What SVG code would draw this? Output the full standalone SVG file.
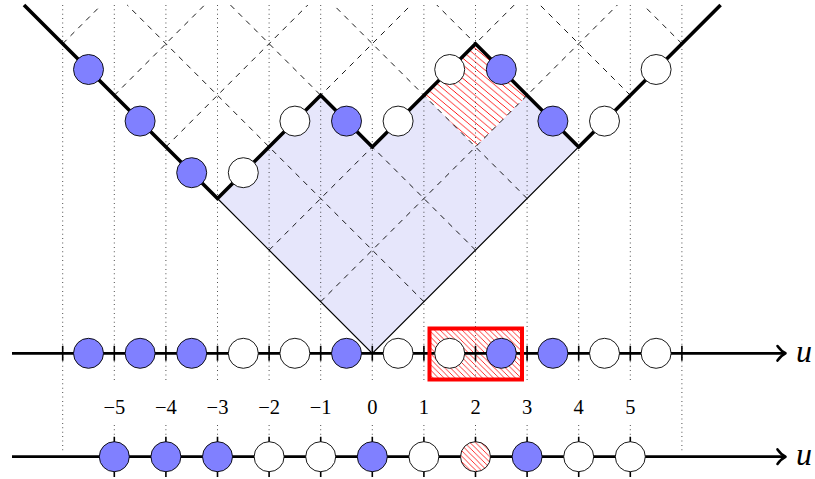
<svg xmlns="http://www.w3.org/2000/svg" width="815" height="479" viewBox="0 0 815 479">
<style>
.bg{fill:#ffffff}
.region{fill:#e6e6fb;stroke:none}
.dash{stroke:#000;stroke-width:0.9;stroke-dasharray:5.5 5.5;fill:none}
.dot{stroke:#222;stroke-width:1;stroke-dasharray:0.8 3.6;fill:none}
.vedge{stroke:#000;stroke-width:1.2;fill:none}
.profile{stroke:#000;stroke-width:3.6;fill:none;stroke-linejoin:miter}
.axis{stroke:#000;stroke-width:2.8;fill:none}
.arrow{stroke:#000;stroke-width:2.6;fill:none;stroke-linecap:round;stroke-linejoin:round}
.tick{stroke:#000;stroke-width:1.6}
.b{fill:#8080ff;stroke:#000;stroke-width:0.9}
.w{fill:#ffffff;stroke:#000;stroke-width:0.9}
.h{fill:url(#hatch);stroke:#000;stroke-width:0.9}
.lbl{font-family:"Liberation Serif",serif;font-size:20.5px;fill:#000;text-anchor:middle}
.u{font-family:"Liberation Serif",serif;font-style:italic;font-size:32px;fill:#000}
</style>
<defs>
<pattern id="hatch" patternUnits="userSpaceOnUse" width="5.5" height="5.5">
<rect width="5.5" height="5.5" fill="#fff"/>
<path d="M-1,-1 L6.5,6.5 M-1,4.5 L1,6.5 M4.5,-1 L6.5,1" stroke="#ff0000" stroke-width="0.8"/>
</pattern>
<pattern id="hatch2" patternUnits="userSpaceOnUse" width="7.3" height="7.3" patternTransform="rotate(-5)">
<rect width="7.3" height="7.3" fill="#fff"/>
<path d="M-1,-1 L8.3,8.3 M-1,6.3 L1,8.3 M6.3,-1 L8.3,1" stroke="#ff0000" stroke-width="0.9"/>
</pattern>
</defs>
<rect class="bg" x="0" y="0" width="815" height="479"/>

<g id="cone-region">
<polygon class="region" points="372.3,353.3 217.5,198.5 320.7,95.3 372.3,146.9 475.5,43.7 578.7,146.9"/>
<polygon id="hatched-cell" points="475.5,43.7 527.1,95.3 475.5,146.9 423.9,95.3" fill="url(#hatch2)"/>
</g>

<g id="grid">
<line class="dash" x1="320.7" y1="301.7" x2="617.4" y2="5"/>
<line class="dash" x1="269.1" y1="250.1" x2="514.2" y2="5"/>
<line class="dash" x1="217.5" y1="198.5" x2="411.0" y2="5"/>
<line class="dash" x1="165.9" y1="146.9" x2="307.8" y2="5"/>
<line class="dash" x1="114.3" y1="95.3" x2="204.6" y2="5"/>
<line class="dash" x1="62.7" y1="43.7" x2="101.4" y2="5"/>
<line class="dash" x1="423.9" y1="301.7" x2="127.2" y2="5"/>
<line class="dash" x1="475.5" y1="250.1" x2="230.4" y2="5"/>
<line class="dash" x1="527.1" y1="198.5" x2="333.6" y2="5"/>
<line class="dash" x1="578.7" y1="146.9" x2="436.8" y2="5"/>
<line class="dash" x1="630.3" y1="95.3" x2="540.0" y2="5"/>
<line class="dash" x1="681.9" y1="43.7" x2="643.2" y2="5"/>
</g>

<g id="hatch-box-fill">
<rect x="429.5" y="328.5" width="92.5" height="51" fill="url(#hatch)"/>
</g>

<g id="dotted">
<line class="dot" x1="62.7" y1="5" x2="62.7" y2="452"/>
<line class="dot" x1="681.9" y1="5" x2="681.9" y2="452"/>
<path class="dot" d="M114.3,5V382M114.3,425V437 M165.9,5V382M165.9,425V437 M217.5,5V382M217.5,425V437 M269.1,5V382M269.1,425V437 M320.7,5V382M320.7,425V437 M372.3,5V382M372.3,425V437 M423.9,5V382M423.9,425V437 M475.5,5V382M475.5,425V437 M527.1,5V382M527.1,425V437 M578.7,5V382M578.7,425V437 M630.3,5V382M630.3,425V437"/>
</g>

<g id="connectors">
<polyline id="cone-edges" class="vedge" points="217.5,198.5 372.3,353.3 578.7,146.9"/>
<polyline id="profile" class="profile" points="24,5 217.5,198.5 320.7,95.3 372.3,146.9 475.5,43.7 578.7,146.9 720.6,5"/>
<line id="axis-mid" class="axis" x1="12" y1="353.3" x2="784" y2="353.3"/>
<path class="arrow" d="M777.5,346 Q781.5,351.5 785.5,353.3 Q781.5,355.1 777.5,360.6"/>
<path id="ticks-mid" class="tick" d="M62.7,345.8V360.8 M114.3,345.8V360.8 M165.9,345.8V360.8 M217.5,345.8V360.8 M269.1,345.8V360.8 M320.7,345.8V360.8 M372.3,345.8V360.8 M423.9,345.8V360.8 M475.5,345.8V360.8 M527.1,345.8V360.8 M578.7,345.8V360.8 M630.3,345.8V360.8 M681.9,345.8V360.8"/>
<line id="axis-bottom" class="axis" x1="12" y1="456.7" x2="784" y2="456.7"/>
<path class="arrow" d="M777.5,449.4 Q781.5,454.9 785.5,456.7 Q781.5,458.5 777.5,464"/>
<path id="ticks-bottom" class="tick" d="M114.3,436.7V477 M165.9,436.7V477 M217.5,436.7V477 M269.1,436.7V477 M320.7,436.7V477 M372.3,436.7V477 M423.9,436.7V477 M475.5,436.7V477 M527.1,436.7V477 M578.7,436.7V477 M630.3,436.7V477"/>
</g>

<g id="profile-nodes">
<circle id="p1" class="b" cx="88.5" cy="69.5" r="15"/>
<circle id="p2" class="b" cx="140.1" cy="121.1" r="15"/>
<circle id="p3" class="b" cx="191.7" cy="172.7" r="15"/>
<circle id="p4" class="w" cx="243.3" cy="172.7" r="15"/>
<circle id="p5" class="w" cx="294.9" cy="121.1" r="15"/>
<circle id="p6" class="b" cx="346.5" cy="121.1" r="15"/>
<circle id="p7" class="w" cx="398.1" cy="121.1" r="15"/>
<circle id="p8" class="w" cx="449.7" cy="69.5" r="15"/>
<circle id="p9" class="b" cx="501.3" cy="69.5" r="15"/>
<circle id="p10" class="b" cx="552.9" cy="121.1" r="15"/>
<circle id="p11" class="w" cx="604.5" cy="121.1" r="15"/>
<circle id="p12" class="w" cx="656.1" cy="69.5" r="15"/>
</g>

<g id="axis-nodes">
<circle id="a1" class="b" cx="88.5" cy="353.3" r="15"/>
<circle id="a2" class="b" cx="140.1" cy="353.3" r="15"/>
<circle id="a3" class="b" cx="191.7" cy="353.3" r="15"/>
<circle id="a4" class="w" cx="243.3" cy="353.3" r="15"/>
<circle id="a5" class="w" cx="294.9" cy="353.3" r="15"/>
<circle id="a6" class="b" cx="346.5" cy="353.3" r="15"/>
<circle id="a7" class="w" cx="398.1" cy="353.3" r="15"/>
<circle id="a8" class="w" cx="449.7" cy="353.3" r="15"/>
<circle id="a9" class="b" cx="501.3" cy="353.3" r="15"/>
<circle id="a10" class="b" cx="552.9" cy="353.3" r="15"/>
<circle id="a11" class="w" cx="604.5" cy="353.3" r="15"/>
<circle id="a12" class="w" cx="656.1" cy="353.3" r="15"/>
</g>

<g id="red-box">
<rect x="429.5" y="328.5" width="92.5" height="51" fill="none" stroke="#ff0000" stroke-width="4"/>
</g>

<g id="bottom-nodes">
<circle id="q1" class="b" cx="114.3" cy="456.7" r="15"/>
<circle id="q2" class="b" cx="165.9" cy="456.7" r="15"/>
<circle id="q3" class="b" cx="217.5" cy="456.7" r="15"/>
<circle id="q4" class="w" cx="269.1" cy="456.7" r="15"/>
<circle id="q5" class="w" cx="320.7" cy="456.7" r="15"/>
<circle id="q6" class="b" cx="372.3" cy="456.7" r="15"/>
<circle id="q7" class="w" cx="423.9" cy="456.7" r="15"/>
<circle id="q8" class="h" cx="475.5" cy="456.7" r="15"/>
<circle id="q9" class="b" cx="527.1" cy="456.7" r="15"/>
<circle id="q10" class="w" cx="578.7" cy="456.7" r="15"/>
<circle id="q11" class="w" cx="630.3" cy="456.7" r="15"/>
</g>

<g id="labels">
<text class="lbl" x="114.3" y="414">−5</text>
<text class="lbl" x="165.9" y="414">−4</text>
<text class="lbl" x="217.5" y="414">−3</text>
<text class="lbl" x="269.1" y="414">−2</text>
<text class="lbl" x="320.7" y="414">−1</text>
<text class="lbl" x="372.3" y="414">0</text>
<text class="lbl" x="423.9" y="414">1</text>
<text class="lbl" x="475.5" y="414">2</text>
<text class="lbl" x="527.1" y="414">3</text>
<text class="lbl" x="578.7" y="414">4</text>
<text class="lbl" x="630.3" y="414">5</text>
<text class="u" x="796" y="361.5">u</text>
<text class="u" x="796" y="465">u</text>
</g>
</svg>
